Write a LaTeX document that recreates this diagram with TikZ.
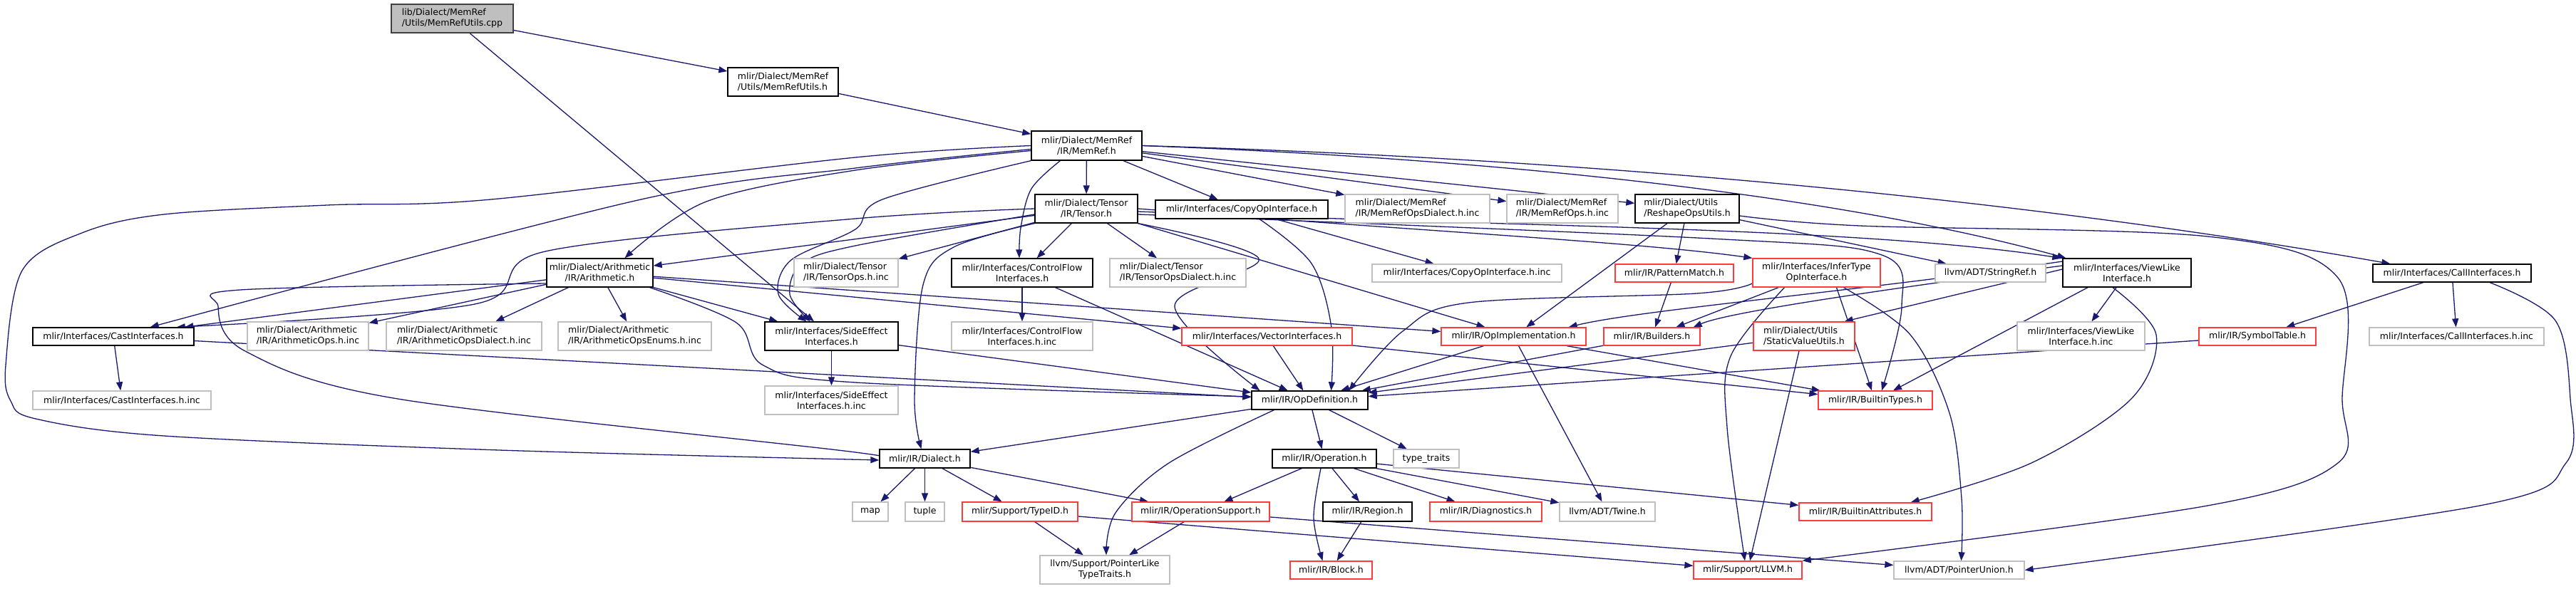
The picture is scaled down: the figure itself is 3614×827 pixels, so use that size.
\documentclass[tikz,border=0pt]{standalone}
\usepackage{fontspec}
\setmainfont{DejaVu Sans}
\usetikzlibrary{arrows.meta}
\definecolor{edgec}{HTML}{191970}
\definecolor{grayb}{HTML}{BFBFBF}
\definecolor{redb}{HTML}{FF3B3B}
\definecolor{rootf}{HTML}{BFBFBF}
\definecolor{rootb}{HTML}{404040}
\pgfdeclarelayer{bglayer}
\pgfdeclarelayer{edgelayer}
\pgfsetlayers{bglayer,edgelayer,main}
\newcommand\mkbox[7]{\node[#6, minimum width={#4-#2}, minimum height={#5-#3}] (#1) at ({(#2+#4)/2},{(#3+#5)/2}) {#7};}
\begin{document}
\begin{tikzpicture}[x=1pt,y=-1pt,
  nb/.style={draw=black, line width=1.3pt, fill=white, inner sep=0pt, font=\fontsize{12.5}{15}\selectfont},
  ng/.style={nb, draw=grayb},
  nr/.style={nb, draw=redb},
  nroot/.style={nb, fill=rootf, draw=rootb},
  L/.style={align=left}, C/.style={align=center},
  e/.style={draw=edgec, line width=1.3pt, -{Triangle[length=12pt,width=9pt]}},
  sm/.style={smooth, tension=0.55}]
\begin{pgfonlayer}{bglayer}
\fill[white] (0,0) rectangle (3614,827);
\end{pgfonlayer}
\useasboundingbox (0,0) rectangle (3614,827);
% nodes
\mkbox{cpp}{549}{6}{720}{46}{nroot,L}{lib/Dialect/MemRef\\/Utils/MemRefUtils.cpp}
\mkbox{mru}{1021}{95}{1176}{135}{nb,L}{mlir/Dialect/MemRef\\/Utils/MemRefUtils.h}
\mkbox{memref}{1447}{184}{1602}{225}{nb,C}{mlir/Dialect/MemRef\\/IR/MemRef.h}
\mkbox{tensor}{1452}{273}{1596}{313}{nb,C}{mlir/Dialect/Tensor\\/IR/Tensor.h}
\mkbox{copy}{1621}{281}{1863}{307}{nb}{mlir/Interfaces/CopyOpInterface.h}
\mkbox{mrdialinc}{1887}{273}{2090}{313}{ng,L}{mlir/Dialect/MemRef\\/IR/MemRefOpsDialect.h.inc}
\mkbox{mropsinc}{2114}{273}{2270}{313}{ng,L}{mlir/Dialect/MemRef\\/IR/MemRefOps.h.inc}
\mkbox{reshape}{2294}{273}{2440}{313}{nb,L}{mlir/Dialect/Utils\\/ReshapeOpsUtils.h}
\mkbox{tensorops}{1114}{363}{1260}{403}{ng,L}{mlir/Dialect/Tensor\\/IR/TensorOps.h.inc}
\mkbox{cf}{1335}{363}{1533}{403}{nb,C}{mlir/Interfaces/ControlFlow\\Interfaces.h}
\mkbox{tensordial}{1557}{363}{1748}{403}{ng,L}{mlir/Dialect/Tensor\\/IR/TensorOpsDialect.h.inc}
\mkbox{copyinc}{1925}{371}{2191}{396}{ng}{mlir/Interfaces/CopyOpInterface.h.inc}
\mkbox{pattern}{2266}{371}{2432}{396}{nr}{mlir/IR/PatternMatch.h}
\mkbox{infer}{2459}{363}{2638}{403}{nr,C}{mlir/Interfaces/InferType\\OpInterface.h}
\mkbox{stringref}{2715}{371}{2870}{396}{ng}{llvm/ADT/StringRef.h}
\mkbox{viewlike}{2894}{363}{3074}{403}{nb,C}{mlir/Interfaces/ViewLike\\Interface.h}
\mkbox{callif}{3329}{371}{3551}{396}{nb}{mlir/Interfaces/CallInterfaces.h}
\mkbox{arith}{767}{363}{916}{403}{nb,C}{mlir/Dialect/Arithmetic\\/IR/Arithmetic.h}
\mkbox{cast}{46}{460}{272}{485}{nb}{mlir/Interfaces/CastInterfaces.h}
\mkbox{arops}{347}{452}{517}{492}{ng,L}{mlir/Dialect/Arithmetic\\/IR/ArithmeticOps.h.inc}
\mkbox{ardial}{542}{452}{760}{492}{ng,L}{mlir/Dialect/Arithmetic\\/IR/ArithmeticOpsDialect.h.inc}
\mkbox{arenums}{783}{452}{998}{492}{ng,L}{mlir/Dialect/Arithmetic\\/IR/ArithmeticOpsEnums.h.inc}
\mkbox{sideeff}{1073}{452}{1260}{492}{nb,C}{mlir/Interfaces/SideEffect\\Interfaces.h}
\mkbox{cfinc}{1335}{452}{1533}{492}{ng,C}{mlir/Interfaces/ControlFlow\\Interfaces.h.inc}
\mkbox{vector}{1658}{460}{1897}{485}{nr}{mlir/Interfaces/VectorInterfaces.h}
\mkbox{opimpl}{2022}{460}{2225}{485}{nr}{mlir/IR/OpImplementation.h}
\mkbox{builders}{2250}{460}{2385}{485}{nr}{mlir/IR/Builders.h}
\mkbox{static}{2460}{452}{2602}{492}{nr,L}{mlir/Dialect/Utils\\/StaticValueUtils.h}
\mkbox{viewinc}{2830}{452}{3009}{492}{ng,C}{mlir/Interfaces/ViewLike\\Interface.h.inc}
\mkbox{symtab}{3085}{460}{3249}{485}{nr}{mlir/IR/SymbolTable.h}
\mkbox{callinc}{3324}{460}{3569}{485}{ng}{mlir/Interfaces/CallInterfaces.h.inc}
\mkbox{sideinc}{1073}{542}{1260}{582}{ng,C}{mlir/Interfaces/SideEffect\\Interfaces.h.inc}
\mkbox{castinc}{46}{549}{296}{575}{ng}{mlir/Interfaces/CastInterfaces.h.inc}
\mkbox{opdef}{1756}{549}{1919}{575}{nb}{mlir/IR/OpDefinition.h}
\mkbox{builtintypes}{2551}{549}{2711}{575}{nr}{mlir/IR/BuiltinTypes.h}
\mkbox{dialect}{1234}{631}{1361}{657}{nb}{mlir/IR/Dialect.h}
\mkbox{operation}{1785}{631}{1931}{657}{nb}{mlir/IR/Operation.h}
\mkbox{typetraits}{1955}{631}{2047}{657}{ng}{type\_traits}
\mkbox{map}{1196}{705}{1246}{732}{ng}{map}
\mkbox{tuple}{1270}{705}{1325}{732}{ng}{tuple}
\mkbox{typeid}{1350}{705}{1512}{732}{nr}{mlir/Support/TypeID.h}
\mkbox{opsupport}{1588}{705}{1781}{732}{nr}{mlir/IR/OperationSupport.h}
\mkbox{region}{1856}{705}{1981}{732}{nb}{mlir/IR/Region.h}
\mkbox{diag}{2006}{705}{2163}{732}{nr}{mlir/IR/Diagnostics.h}
\mkbox{twine}{2188}{705}{2322}{732}{ng}{llvm/ADT/Twine.h}
\mkbox{battr}{2524}{706}{2710}{731}{nr}{mlir/IR/BuiltinAttributes.h}
\mkbox{ptrlike}{1459}{780}{1641}{820}{ng,C}{llvm/Support/PointerLike\\TypeTraits.h}
\mkbox{block}{1810}{788}{1925}{813}{nr}{mlir/IR/Block.h}
\mkbox{llvm}{2376}{788}{2528}{813}{nr}{mlir/Support/LLVM.h}
\mkbox{punion}{2657}{788}{2840}{813}{ng}{llvm/ADT/PointerUnion.h}
% edges
\begin{pgfonlayer}{edgelayer}
\draw[e] (cpp) -- (mru);
\draw[e] (cpp) -- (sideeff);
\draw[e] (mru) -- (memref);
\draw[e] (memref) -- (tensor);
\draw[e] (memref) -- (copy);
\draw[e] (memref) -- (mrdialinc);
\draw[e] (memref) -- (mropsinc);
\draw[e] (memref) -- (reshape);
\draw[e] (memref.east) .. controls (2150,225) and (2600,280) .. ([xshift=5]viewlike.north west);
\draw[e] (memref.east) .. controls (2300,225) and (2900,290) .. ([xshift=25]callif.north west);
\draw[e] plot[sm] coordinates {(memref.west) (1200,221) (689,280) (459,288) (230,301) (115,327) (31,380) (8,513) (15,563) (50,588) (230,612) (700,632) ([yshift=-2]dialect.west)};
\draw[e] plot[sm] coordinates {([yshift=-5]memref.west) (1200,236) (895,281) ([xshift=-62]cast.north east)};
\draw[e] plot[sm] coordinates {([yshift=-7]memref.west) (1200,239) (991,283) ([xshift=35]arith.north)};
\draw[e] plot[sm] coordinates {(memref.south west) (1238,280) (1200,322) (1110,365) (1092,413) ([xshift=-35]sideeff.north)};
\draw[e] plot[sm] coordinates {([xshift=-37]memref.south) (1447,265) (1432,320) ([xshift=-4]cf.north)};
% tensor
\draw[e] (tensor) -- (tensorops);
\draw[e] (tensor) -- (cf);
\draw[e] (tensor) -- (tensordial);
\draw[e] (tensor) -- (arith);
\draw[e] plot[sm] coordinates {(tensor.west) (1200,307) (765,353) (666,427) ([xshift=-25]cast.north east)};
\draw[e] plot[sm] coordinates {([yshift=-8]tensor.west) (1200,345) (1125,370) (1108,413) ([xshift=-30]sideeff.north)};
\draw[e] plot[sm] coordinates {(tensor.south west) (1338,347) (1295,400) (1283,560) ([xshift=-5]dialect.north)};
\draw[e] plot[sm] coordinates {(tensor.south east) (1766,363) (1648,430) ([xshift=-70]opdef.north)};
\draw[e] (tensor.south east) -- ([xshift=-40]opimpl.north);
\draw[e] (tensor.east) .. controls (2000,325) and (2300,340) .. (infer.north west);
\draw[e] ([yshift=-4]tensor.east) .. controls (2100,318) and (2600,318) .. ([xshift=-2]viewlike.north west);
\draw[e] plot[sm] coordinates {([yshift=-8]tensor.east) (2400,335) (2640,358) (2668,430) ([xshift=9]builtintypes.north)};
% arith
\draw[e] (arith) -- (cast);
\draw[e] (arith) -- (arops);
\draw[e] (arith) -- (ardial);
\draw[e] (arith) -- (arenums);
\draw[e] (arith) -- (sideeff);
\draw[e] (arith) -- (vector);
\draw[e] (arith) -- (opimpl);
\draw[e] plot[sm] coordinates {([xshift=70]arith.south) (1033,453) (1071,513) (1200,537) ([yshift=5]opdef.west)};
\draw[e] plot[sm] coordinates {([yshift=-15]arith.west) (337,407) (306,430) (344,493) (558,560) (1200,635) ([yshift=-3]dialect.west)};
% interfaces
\draw[e] (cast) -- (castinc);
\draw[e] (cast) -- (opdef);
\draw[e] (sideeff) -- (sideinc);
\draw[e] (sideeff) -- (opdef);
\draw[e] (cf) -- (cfinc);
\draw[e] (cf) -- (opdef);
\draw[e] (copy) -- (copyinc);
\draw[e] plot[sm] coordinates {([xshift=25]copy.south) (1840,370) (1868,460) ([xshift=30]opdef.north)};
\draw[e] (vector) -- (opdef);
\draw[e] (vector) -- (builtintypes);
\draw[e] (opimpl) -- (opdef);
\draw[e] (opimpl) -- (twine);
\draw[e] (opimpl) -- (builtintypes);
\draw[e] (builders) -- (opdef);
\draw[e] (pattern) -- (builders);
\draw[e] (reshape) -- (pattern);
\draw[e] (reshape) -- (opimpl);
\draw[e] (reshape) -- (stringref);
\draw[e] plot[sm] coordinates {([yshift=-10]reshape.east) (2609,317) (3097,332) (3280,390) (3286,560) (3280,650) (3097,710) (llvm.north east)};
% infer
\draw[e] plot[sm] coordinates {([yshift=-15]infer.west) (2380,412) (2060,425) (1968,465) ([xshift=55]opdef.north)};
\draw[e] (infer) -- (builders);
\draw[e] plot[sm] coordinates {([xshift=-45]infer.south) (2428,500) (2423,600) ([xshift=-4]llvm.north)};
\draw[e] ([xshift=28]infer.south) -- ([xshift=-5]builtintypes.north);
\draw[e] plot[sm] coordinates {([xshift=38]infer.south) (2680,470) (2735,580) (2752,700) ([xshift=3]punion.north)};
% viewlike
\draw[e] ([yshift=16]viewlike.west) .. controls (2600,410) and (2300,435) .. ([xshift=-25]opimpl.north east);
\draw[e] ([yshift=10]viewlike.west) .. controls (2600,412) and (2420,440) .. ([xshift=-10]builders.north east);
\draw[e] ([yshift=5]viewlike.west) -- ([xshift=-15]static.north east);
\draw[e] (viewlike) -- (viewinc);
\draw[e] ([xshift=-55]viewlike.south) -- ([xshift=25]builtintypes.north);
\draw[e] plot[sm] coordinates {([xshift=-20]viewlike.south) (3025,470) (2990,560) (2850,650) ([xshift=-30]battr.north east)};
\draw[e] (static) -- (opdef);
\draw[e] ([xshift=-7]static.south) -- ([xshift=3]llvm.north);
\draw[e] (symtab) -- (opdef);
\draw[e] (callif) -- (symtab);
\draw[e] (callif) -- (callinc);
\draw[e] plot[sm] coordinates {([xshift=53]callif.south) (3585,450) (3606,560) (3600,650) (3484,709) (punion.east)};
% core
\draw[e] (opdef) -- (dialect);
\draw[e] (opdef) -- (operation);
\draw[e] (opdef) -- (typetraits);
\draw[e] plot[sm] coordinates {([xshift=-50]opdef.south) (1640,650) (1565,720) ([xshift=2]ptrlike.north)};
\draw[e] (dialect) -- (map);
\draw[e] (dialect) -- (tuple);
\draw[e] (dialect) -- (typeid);
\draw[e] (dialect) -- (opsupport);
\draw[e] (operation) -- (opsupport);
\draw[e] (operation) -- (region);
\draw[e] (operation) -- (diag);
\draw[e] (operation) -- (twine);
\draw[e] (operation) -- (battr);
\draw[e] plot[sm] coordinates {([xshift=-5]operation.south) (1843,727) ([xshift=-12]block.north)};
\draw[e] (region) -- (block);
\draw[e] (typeid) -- (ptrlike);
\draw[e] (typeid) -- (llvm);
\draw[e] (opsupport) -- (ptrlike);
\draw[e] (opsupport) -- (punion);
\end{pgfonlayer}
\end{tikzpicture}
\end{document}
